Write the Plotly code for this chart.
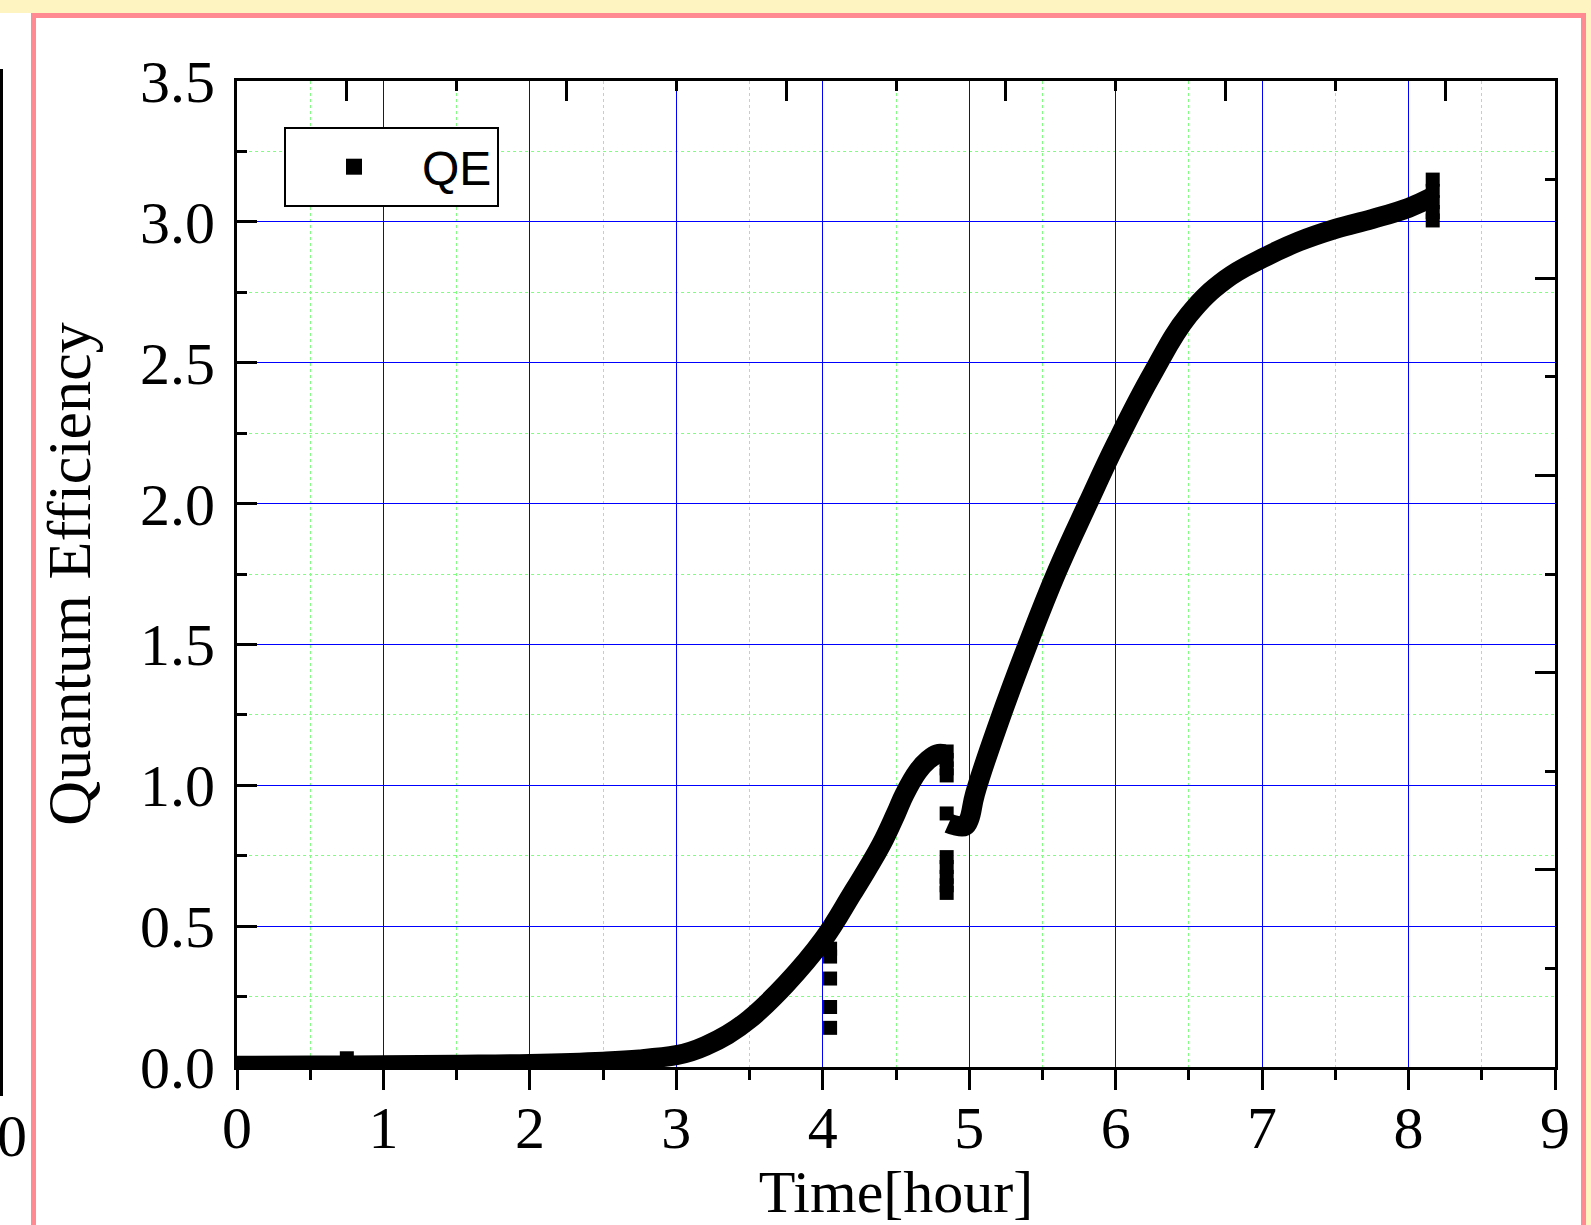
import plotly.graph_objects as go

# ---------------- data ----------------
# main continuous band, first part (up to the first peak)
curve_a_x = [0.0, 0.5, 1.0, 1.5, 2.0, 2.5, 2.75, 3.0, 3.1, 3.2, 3.35, 3.5, 3.75, 4.0,
             4.2, 4.3, 4.4, 4.5, 4.56, 4.65, 4.72, 4.78, 4.83]
curve_a_y = [0.004, 0.005, 0.006, 0.008, 0.011, 0.019, 0.027, 0.042, 0.055, 0.075, 0.115, 0.17,
             0.295, 0.45, 0.615, 0.70, 0.79, 0.90, 0.97, 1.05, 1.09, 1.11, 1.11]
# main continuous band, second part (after the drop)
curve_b_x = [4.86, 4.9, 4.97, 5.0, 5.04, 5.2, 5.4, 5.6, 5.81, 6.0, 6.25, 6.5, 6.75,
             7.0, 7.25, 7.5, 7.75, 8.0, 8.15]
curve_b_y = [0.865, 0.858, 0.855, 0.88, 0.97, 1.22, 1.5, 1.76, 2.0, 2.21, 2.46, 2.67, 2.795,
             2.87, 2.93, 2.975, 3.01, 3.05, 3.085]
# isolated QE points (square markers)
pts_x = [0.75, 4.05, 4.05, 4.05, 4.05, 4.05,
         4.846, 4.846, 4.846, 4.846, 4.846,
         4.846, 4.846, 4.846, 4.846, 4.846,
         8.165, 8.165, 8.165, 8.165, 8.165]
pts_y = [0.031, 0.42, 0.392, 0.314, 0.213, 0.139,
         1.12, 1.09, 1.06, 1.035, 0.90,
         0.745, 0.71, 0.675, 0.645, 0.618,
         3.005, 3.035, 3.07, 3.11, 3.15]

x_ticks = [0, 1, 2, 3, 4, 5, 6, 7, 8, 9]
y_ticks = [0.0, 0.5, 1.0, 1.5, 2.0, 2.5, 3.0, 3.5]
y_tick_text = ["0.0", "0.5", "1.0", "1.5", "2.0", "2.5", "3.0", "3.5"]
top_major = [0.75, 2.25, 3.75, 5.25, 6.75, 8.25]
top_minor = [1.5, 3.0, 4.5, 6.0, 7.5]
right_major = [0.0, 0.7, 1.4, 2.1, 2.8, 3.5]
right_minor = [0.35, 1.05, 1.75, 2.45, 3.15]

# ---------------- layout geometry ----------------
W, H = 1591, 1225
L, R, T, B = 237, 1555, 81, 1067  # plot area in pixels

def px_x(p):
    return (p - L) / (R - L)

def px_y(p):
    return (B - p) / (B - T)

SERIF = "Liberation Serif"
SANS = "Liberation Sans"
BLUE = "#0000ff"
GREEN = "#80ff80"
PINK = "#ff8a92"
YELLOW = "#fdf4c2"

fig = go.Figure()

curve_x = curve_a_x + [None] + curve_b_x
curve_y = curve_a_y + [None] + curve_b_y
fig.add_trace(go.Scatter(
    x=curve_x, y=curve_y, mode="lines",
    line=dict(color="black", width=20, shape="spline", smoothing=1.2), connectgaps=False,
    showlegend=False, hoverinfo="skip", legendgroup="qe"))

fig.add_trace(go.Scatter(
    x=pts_x, y=pts_y, mode="markers", name="QE", legendgroup="qe", showlegend=False,
    marker=dict(symbol="square", size=14, color="black", line=dict(width=0))))

# legend entry for the QE series (drawn with Origin's larger legend symbol)
fig.add_trace(go.Scatter(
    x=[None], y=[None], mode="markers", name="QE", legendgroup="qe", showlegend=True,
    marker=dict(symbol="square", size=19, color="black", line=dict(width=0))))

# invisible trace for the secondary (top/right) tick axes
fig.add_trace(go.Scatter(x=[None], y=[None], xaxis="x2", yaxis="y2",
                         showlegend=False, hoverinfo="skip"))

fig.update_layout(
    width=W, height=H,
    margin=dict(l=L, r=W - R, t=T, b=H - B, autoexpand=False),
    paper_bgcolor="white", plot_bgcolor="white",
    font=dict(family=SERIF, color="black", size=60),
    xaxis=dict(
        range=[0, 9], tickvals=x_ticks, ticktext=[str(v) for v in x_ticks],
        ticks="outside", ticklen=20, tickwidth=3, tickcolor="black",
        showline=True, linewidth=3, linecolor="black", mirror=True,
        showgrid=True, gridcolor=BLUE, gridwidth=1, zeroline=False,
        tickfont=dict(family=SERIF, size=60), ticklabelstandoff=-14,
        minor=dict(dtick=0.5, tick0=0, ticks="outside", ticklen=10, tickwidth=3,
                   tickcolor="black", showgrid=True, gridcolor=GREEN, gridwidth=1,
                   griddash="dot"),
        title=dict(text="Time[hour]", font=dict(family=SERIF, size=60), standoff=22),
        automargin=False, layer="above traces"),
    yaxis=dict(
        range=[0, 3.5], tickvals=y_ticks, ticktext=y_tick_text,
        ticks="inside", ticklen=20, tickwidth=3, tickcolor="black",
        showline=True, linewidth=3, linecolor="black", mirror=True,
        showgrid=True, gridcolor=BLUE, gridwidth=1, zeroline=False,
        tickfont=dict(family=SERIF, size=60), ticklabelstandoff=7,
        minor=dict(dtick=0.25, tick0=0, ticks="inside", ticklen=10, tickwidth=3,
                   tickcolor="black", showgrid=True, gridcolor=GREEN, gridwidth=1,
                   griddash="dot"),
        title=dict(text="Quantum Efficiency", font=dict(family=SERIF, size=62), standoff=30),
        automargin=False, layer="above traces"),
    xaxis2=dict(
        overlaying="x", side="top", range=[0, 9], tickmode="array", tickvals=top_major,
        ticks="inside", ticklen=20, tickwidth=3, tickcolor="black",
        showticklabels=False, showgrid=False, showline=False, zeroline=False,
        minor=dict(tickmode="array", tickvals=top_minor, ticks="inside", ticklen=10,
                   tickwidth=3, tickcolor="black", showgrid=False),
        automargin=False),
    yaxis2=dict(
        overlaying="y", side="right", range=[0, 3.5], tickmode="array", tickvals=right_major,
        ticks="inside", ticklen=20, tickwidth=3, tickcolor="black",
        showticklabels=False, showgrid=False, showline=False, zeroline=False,
        minor=dict(tickmode="array", tickvals=right_minor, ticks="inside", ticklen=10,
                   tickwidth=3, tickcolor="black", showgrid=False),
        automargin=False),
    legend=dict(
        x=px_x(284), y=px_y(127), xanchor="left", yanchor="top",
        bgcolor="white", bordercolor="black", borderwidth=2,
        font=dict(family=SANS, size=48), itemwidth=126,
        entrywidth=258, entrywidthmode="pixels"),
    showlegend=True,
)

# page decorations (window frame around the graph)
shapes = [
    dict(type="rect", xref="paper", yref="paper", x0=px_x(-2), x1=px_x(W + 2), y0=px_y(13), y1=px_y(-2),
         fillcolor=YELLOW, line=dict(width=0), layer="below"),
    dict(type="rect", xref="paper", yref="paper", x0=px_x(1586), x1=px_x(W + 2), y0=px_y(H + 2), y1=px_y(0),
         fillcolor=YELLOW, line=dict(width=0), layer="below"),
    dict(type="rect", xref="paper", yref="paper", x0=px_x(31), x1=px_x(1586), y0=px_y(18), y1=px_y(13),
         fillcolor=PINK, line=dict(width=0), layer="below"),
    dict(type="rect", xref="paper", yref="paper", x0=px_x(31), x1=px_x(36), y0=px_y(H + 2), y1=px_y(13),
         fillcolor=PINK, line=dict(width=0), layer="below"),
    dict(type="rect", xref="paper", yref="paper", x0=px_x(1581), x1=px_x(1586), y0=px_y(H + 2), y1=px_y(13),
         fillcolor=PINK, line=dict(width=0), layer="below"),
    dict(type="rect", xref="paper", yref="paper", x0=px_x(-1), x1=px_x(3), y0=px_y(1096), y1=px_y(69),
         fillcolor="black", line=dict(width=0), layer="below"),
]
fig.update_layout(shapes=shapes)
fig.add_annotation(x=px_x(12), y=px_y(1136), xref="paper", yref="paper", text="0",
                   showarrow=False, font=dict(family=SERIF, size=60, color="black"),
                   xanchor="center", yanchor="middle")

fig.write_html("out.html", config={"displayModeBar": False},
               post_script="document.body.style.margin='0px';")
